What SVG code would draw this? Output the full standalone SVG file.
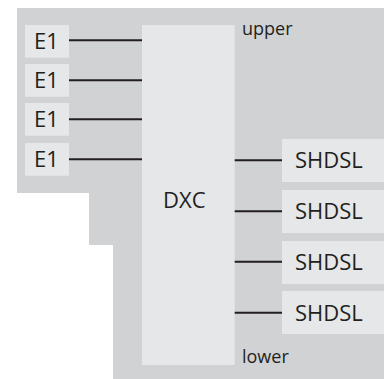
<svg xmlns="http://www.w3.org/2000/svg" width="384" height="379" viewBox="0 0 384 379">
<style>
.bg{fill:#d1d2d4}
.box{fill:#e6e7e8}
.t{font-family:"Open Sans","Noto Sans",sans-serif;font-size:22px;fill:#231f20}
.s{font-family:"Open Sans","Noto Sans",sans-serif;font-size:18px;fill:#231f20}
.ln{stroke:#231f20;stroke-width:2;fill:none}
</style>
<rect width="384" height="379" fill="#ffffff"/>
<polygon class="bg" points="17,8 384,8 384,379 113,379 113,245 89,245 89,193 17,193"/>
<text class="s" x="242" y="35">upper</text>
<text class="s" x="242" y="363">lower</text>
<g id="dxc"><rect class="box" x="142" y="25" width="92.7" height="340"/><text class="t" x="163" y="208.3">DXC</text></g>
<g id="e1-1"><rect class="box" x="25" y="25" width="44" height="32.7"/><text class="t" x="34" y="48.5">E1</text></g>
<g id="e1-2"><rect class="box" x="25" y="64" width="44" height="32.7"/><text class="t" x="34" y="87.5">E1</text></g>
<g id="e1-3"><rect class="box" x="25" y="103" width="44" height="32.7"/><text class="t" x="34" y="126.5">E1</text></g>
<g id="e1-4"><rect class="box" x="25" y="143" width="44" height="32.7"/><text class="t" x="34" y="166.5">E1</text></g>
<g id="shdsl-1"><rect class="box" x="282" y="139" width="102" height="43"/><text class="t" x="295" y="168.3">SHDSL</text></g>
<g id="shdsl-2"><rect class="box" x="282" y="190" width="102" height="43"/><text class="t" x="295" y="219.3">SHDSL</text></g>
<g id="shdsl-3"><rect class="box" x="282" y="241" width="102" height="43"/><text class="t" x="295" y="270">SHDSL</text></g>
<g id="shdsl-4"><rect class="box" x="282" y="291" width="102" height="43"/><text class="t" x="295" y="320.5">SHDSL</text></g>
<g id="connectors">
<line class="ln" x1="69" y1="40.3" x2="142" y2="40.3"/>
<line class="ln" x1="69" y1="80.3" x2="142" y2="80.3"/>
<line class="ln" x1="69" y1="119.3" x2="142" y2="119.3"/>
<line class="ln" x1="69" y1="159.3" x2="142" y2="159.3"/>
<line class="ln" x1="234.7" y1="160.3" x2="282" y2="160.3"/>
<line class="ln" x1="234.7" y1="211.3" x2="282" y2="211.3"/>
<line class="ln" x1="234.7" y1="261.7" x2="282" y2="261.7"/>
<line class="ln" x1="234.7" y1="312.7" x2="282" y2="312.7"/>
</g>
</svg>
